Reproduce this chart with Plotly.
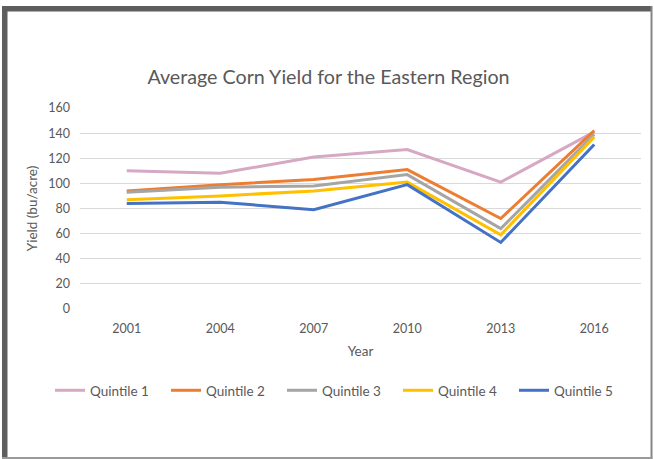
import plotly.graph_objects as go

# Survey years and average yield (bu/acre) per income quintile
years = ["2001", "2004", "2007", "2010", "2013", "2016"]
quintile_1 = [110, 108, 121, 127, 101, 141]
quintile_2 = [94, 99, 103, 111, 72, 142]
quintile_3 = [93, 97, 98, 107, 64, 139]
quintile_4 = [87, 90, 94, 101, 59, 137]
quintile_5 = [84, 85, 79, 99, 53, 131]
series_names = ["Quintile 1", "Quintile 2", "Quintile 3", "Quintile 4", "Quintile 5"]
series_colors = ["#d6a8c4", "#ed7d31", "#a5a5a5", "#ffc000", "#4472c4"]
y_ticks = [0, 20, 40, 60, 80, 100, 120, 140, 160]

W, H = 654, 459
L, R, T, B = 80, 13, 108, 150
PW, PH = W - L - R, H - T - B

def px(x):
    return (x - L) / PW

def py(y):
    return (H - B - y) / PH

TEXT = "#595959"
FONT = "Lato"

fig = go.Figure()
for name, vals, color in zip(series_names,
                             [quintile_1, quintile_2, quintile_3, quintile_4, quintile_5],
                             series_colors):
    fig.add_trace(go.Scatter(x=years, y=vals, name=name, mode="lines",
                             line=dict(color=color, width=3)))

# outer frame around the chart
frame = [
    dict(x0=px(2), x1=px(7.5), y0=py(459), y1=py(6), color="#5e5e5e"),
    dict(x0=px(2), x1=px(652), y0=py(11.5), y1=py(6), color="#5e5e5e"),
    dict(x0=px(650.5), x1=px(652.5), y0=py(459), y1=py(6), color="#858585"),
    dict(x0=px(2), x1=px(652.5), y0=py(459), y1=py(457), color="#9a9a9a"),
]
shapes = [dict(type="rect", xref="paper", yref="paper", x0=f["x0"], x1=f["x1"],
               y0=f["y0"], y1=f["y1"], fillcolor=f["color"], line=dict(width=0),
               layer="above") for f in frame]

fig.update_layout(
    width=W, height=H,
    margin=dict(l=L, r=R, t=T, b=B, pad=0),
    paper_bgcolor="white", plot_bgcolor="white",
    font=dict(family=FONT, color=TEXT, size=13),
    title=dict(text="Average Corn Yield for the Eastern Region",
               font=dict(family=FONT, size=19.7, color=TEXT),
               xref="container", yref="container", x=328.5 / W, y=1 - 77.5 / H,
               xanchor="center", yanchor="middle"),
    xaxis=dict(type="category", range=[-0.5, 5.5], showgrid=False, zeroline=False,
               showline=False, ticks="", ticklabelstandoff=10,
               tickfont=dict(size=12.5, color=TEXT),
               title=dict(text="Year", font=dict(size=13.5, color=TEXT), standoff=12)),
    yaxis=dict(range=[0, 160], tickvals=y_ticks, showgrid=True, gridcolor="#d9d9d9",
               gridwidth=1, zeroline=False, showline=False, ticks="",
               ticklabelstandoff=9, tickfont=dict(size=12.5, color=TEXT),
               title=dict(text="Yield (bu/acre)", font=dict(size=13.5, color=TEXT),
                          standoff=7)),
    legend=dict(orientation="h", x=px(50), y=py(375), xanchor="left", yanchor="top",
                entrywidth=71, entrywidthmode="pixels",
                font=dict(size=13.5, color=TEXT), bgcolor="rgba(0,0,0,0)"),
    shapes=shapes,
    showlegend=True,
)

fig.write_html("out.html")
